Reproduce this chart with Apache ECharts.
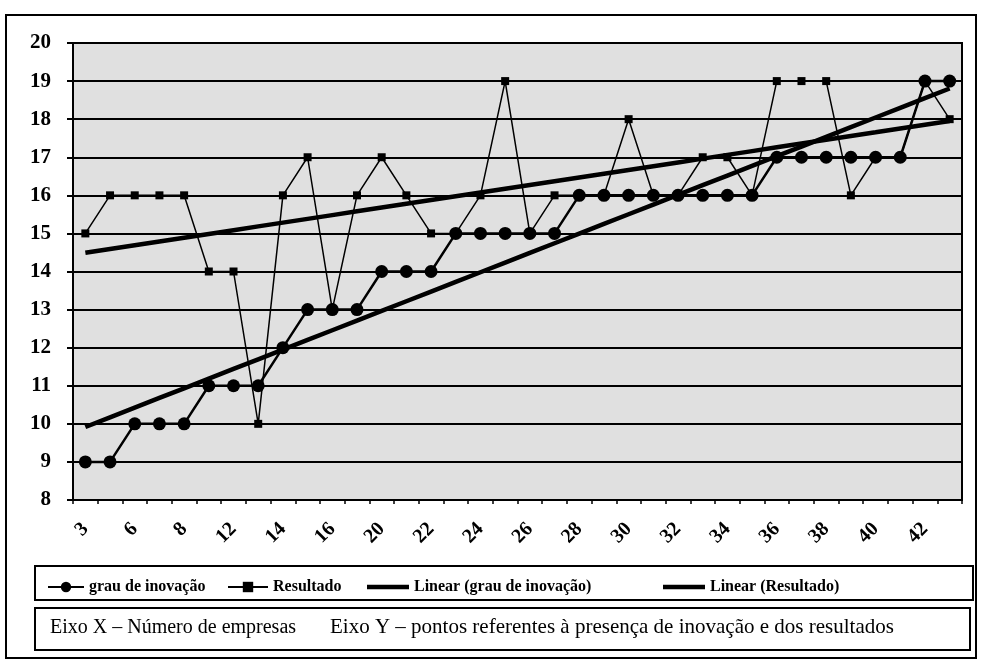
<!DOCTYPE html>
<html>
<head>
<meta charset="utf-8">
<script src="https://cdn.jsdelivr.net/npm/echarts@6/dist/echarts.min.js"></script>
<style>
html,body{margin:0;padding:0;background:#fff;}
#chart{width:986px;height:670px;}
</style>
</head>
<body>
<div id="chart"></div>
<script>
// Categories (número de empresas); only every other label is shown in the original
const categories = ['3','5','6','7','8','10','12','13','14','15','16','18','20','21','22','23','24','25','26','27','28','29','30','31','32','33','34','35','36','37','38','39','40','41','42','43'];
const grauInovacao = [9,9,10,10,10,11,11,11,12,13,13,13,14,14,14,15,15,15,15,15,16,16,16,16,16,16,16,16,17,17,17,17,17,17,19,19];
const resultado = [15,16,16,16,16,14,14,10,16,17,13,16,17,16,15,15,16,19,15,16,16,16,18,16,16,17,17,16,19,19,19,16,17,17,19,18];
const yTicks = {min: 8, max: 20, interval: 1};
const legendNames = ['grau de inovação','Resultado','Linear (grau de inovação)','Linear (Resultado)'];
const footX = 'Eixo X – Número de empresas';
const footY = 'Eixo Y – pontos referentes à presença de inovação e dos resultados';

function linearTrend(arr){
  const n = arr.length;
  let sx=0, sy=0, sxx=0, sxy=0;
  arr.forEach((v,i)=>{ sx+=i; sy+=v; sxx+=i*i; sxy+=i*v; });
  const b = (n*sxy - sx*sy)/(n*sxx - sx*sx);
  const a = (sy - b*sx)/n;
  return arr.map((v,i)=> +(a + b*i).toFixed(4));
}

const chart = echarts.init(document.getElementById('chart'));
const serif = "'Liberation Serif','Times New Roman',serif";
const thickIcon = 'path://M0,0 L0.05,0 L0.05,0.05 Z M0,3.8 L40,3.8 L40,8.2 L0,8.2 Z M0,12 L0.05,12 L0.05,11.95 Z';
const legendText = {fontFamily:serif, fontSize:16, color:'#000', fontWeight:'bold'};
const legendPos = [42, 222, 362, 658];
chart.setOption({
  backgroundColor:'#fff',
  animation:false,
  graphic:[
    {type:'rect', shape:{x:6,y:15,width:970,height:643}, style:{fill:'none', stroke:'#000', lineWidth:2}, z:-1},
    {type:'rect', shape:{x:35,y:566,width:938,height:34}, style:{fill:'#fff', stroke:'#000', lineWidth:2}, z:-1},
    {type:'rect', shape:{x:35,y:608,width:935,height:42}, style:{fill:'#fff', stroke:'#000', lineWidth:2}, z:-1},
    {type:'text', left:50, top:618, style:{text:footX, font:"20px "+serif, fill:'#000'}},
    {type:'text', left:330, top:617, style:{text:footY, font:"21px "+serif, fill:'#000'}}
  ],
  grid:{left:73, right:24, top:43, bottom:170, show:true, backgroundColor:'#e0e0e0', borderColor:'#000', borderWidth:2},
  legend:[
    {data:[{name:legendNames[0]}], left:legendPos[0], top:574, itemWidth:36, itemHeight:13, textStyle:legendText},
    {data:[{name:legendNames[1]}], left:legendPos[1], top:574, itemWidth:40, itemHeight:13, textStyle:legendText},
    {data:[{name:legendNames[2], icon:thickIcon}], left:legendPos[2], top:574, itemWidth:42, itemHeight:13, textStyle:legendText},
    {data:[{name:legendNames[3], icon:thickIcon}], left:legendPos[3], top:574, itemWidth:42, itemHeight:13, textStyle:legendText}
  ],
  xAxis:{
    type:'category', data:categories, boundaryGap:true,
    axisLine:{lineStyle:{color:'#000', width:2}},
    axisTick:{show:true, interval:0, inside:false, length:4, lineStyle:{color:'#000', width:1.5}},
    axisLabel:{interval:1, rotate:45, fontFamily:serif, fontSize:20, fontWeight:'bold', color:'#000', margin:26},
    splitLine:{show:false}
  },
  yAxis:{
    type:'value', min:yTicks.min, max:yTicks.max, interval:yTicks.interval,
    axisLine:{show:true, lineStyle:{color:'#000', width:2}},
    axisTick:{show:true, length:6, lineStyle:{color:'#000', width:2}},
    axisLabel:{fontFamily:serif, fontSize:21, fontWeight:'bold', color:'#000', margin:22},
    splitLine:{show:true, lineStyle:{color:'#000', width:2}}
  },
  series:[
    {name:legendNames[0], type:'line', data:grauInovacao, symbol:'circle', symbolSize:13,
     lineStyle:{color:'#000', width:2.5}, itemStyle:{color:'#000'}, z:4},
    {name:legendNames[1], type:'line', data:resultado, symbol:'rect', symbolSize:8,
     lineStyle:{color:'#000', width:1.5}, itemStyle:{color:'#000'}, z:3},
    {name:legendNames[2], type:'line', data:linearTrend(grauInovacao), symbol:'none', showSymbol:false,
     lineStyle:{color:'#000', width:4.5}, itemStyle:{color:'#000'}, z:5},
    {name:legendNames[3], type:'line', data:linearTrend(resultado), symbol:'none', showSymbol:false,
     lineStyle:{color:'#000', width:4.5}, itemStyle:{color:'#000'}, z:5}
  ]
});
</script>
</body>
</html>
